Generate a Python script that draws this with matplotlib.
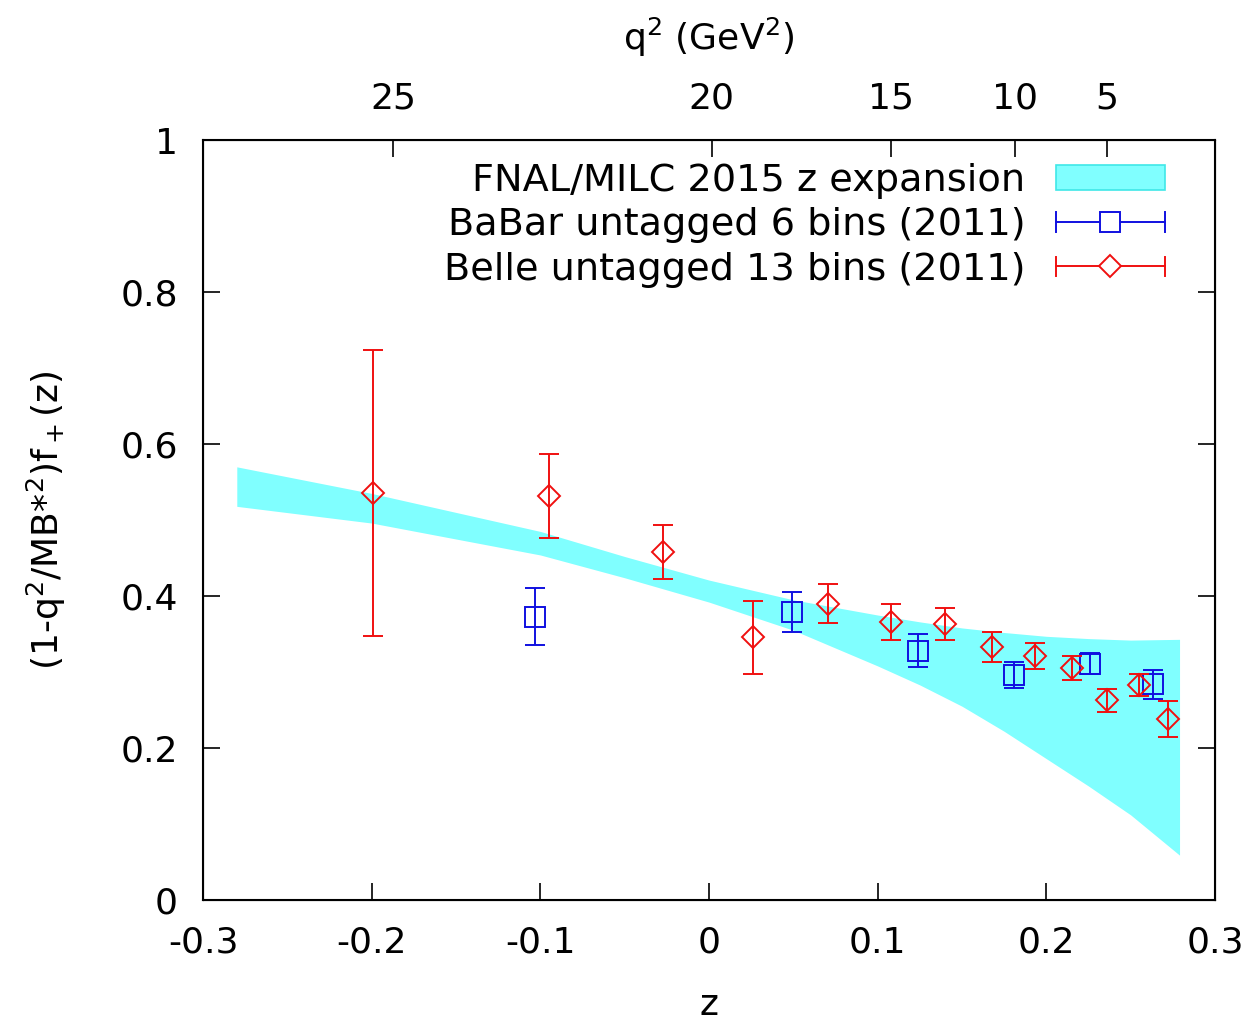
import matplotlib
matplotlib.use("Agg")
import matplotlib.pyplot as plt
import numpy as np
from matplotlib.legend_handler import HandlerBase
from matplotlib.lines import Line2D
from matplotlib.patches import Patch

# FNAL/MILC z-expansion band
band_z = [-0.280, -0.20, -0.15, -0.10, -0.05, 0.00, 0.05, 0.10, 0.125, 0.15,
          0.175, 0.20, 0.225, 0.25, 0.279]
band_hi = [0.570, 0.535, 0.510, 0.485, 0.452, 0.421, 0.395, 0.375, 0.366, 0.358,
           0.352, 0.347, 0.344, 0.342, 0.343]
band_lo = [0.518, 0.496, 0.475, 0.454, 0.424, 0.392, 0.355, 0.308, 0.283, 0.255,
           0.222, 0.186, 0.150, 0.112, 0.059]

# BaBar untagged 6 bins (2011)
babar_z = [-0.103, 0.049, 0.124, 0.181, 0.226, 0.263]
babar_y = [0.373, 0.379, 0.328, 0.296, 0.311, 0.284]
babar_err = [0.037, 0.026, 0.022, 0.017, 0.014, 0.019]

# Belle untagged 13 bins (2011)
belle_z = [-0.199, -0.095, -0.027, 0.026, 0.0705, 0.108, 0.140, 0.168, 0.193, 0.215, 0.236, 0.255, 0.272]
belle_y = [0.536, 0.532, 0.458, 0.346, 0.390, 0.366, 0.363, 0.333, 0.321, 0.305, 0.263, 0.283, 0.238]
belle_err = [0.188, 0.055, 0.036, 0.048, 0.026, 0.024, 0.021, 0.020, 0.017, 0.016, 0.015, 0.014, 0.024]

# top axis: q^2 ticks (GeV^2)
q2_ticks = [25, 20, 15, 10, 5]

CYAN = "#80ffff"
BLUE = "#1010e0"
RED = "#f01010"
FS = 26


def q2_to_z(q2, mB=5.279, mpi=0.1396):
    tp = (mB + mpi) ** 2
    tm = (mB - mpi) ** 2
    t0 = tp * (1 - np.sqrt(1 - tm / tp))
    a = np.sqrt(tp - np.asarray(q2, float))
    b = np.sqrt(tp - t0)
    return (a - b) / (a + b)


class GnuplotKey(HandlerBase):
    """gnuplot-style key sample: horizontal bar with end caps and a marker."""

    def __init__(self, color, marker, ms):
        super().__init__()
        self.color, self.marker, self.ms = color, marker, ms

    def create_artists(self, legend, orig_handle, xdescent, ydescent,
                       width, height, fontsize, trans):
        x0, x1 = -xdescent, -xdescent + width
        y = height / 2 - ydescent
        c = 7
        arts = [
            Line2D([x0, x1], [y, y], color=self.color, lw=1.4),
            Line2D([x0, x0], [y - c, y + c], color=self.color, lw=1.4),
            Line2D([x1, x1], [y - c, y + c], color=self.color, lw=1.4),
            Line2D([(x0 + x1) / 2], [y], marker=self.marker, ms=self.ms,
                   mfc="white", mec=self.color, mew=1.4, ls="none"),
        ]
        for a in arts:
            a.set_transform(trans)
        return arts


fig = plt.figure(figsize=(12.55, 10.26), dpi=100)
ax = fig.add_axes([0.1618, 0.1228, 0.8063, 0.7407])

ax.fill_between(band_z, band_lo, band_hi, color=CYAN, lw=0, zorder=1)
ax.errorbar(babar_z, babar_y, yerr=babar_err, fmt="s", ms=15, mfc="none",
            mec=BLUE, mew=1.4, ecolor=BLUE, elinewidth=1.4, capsize=7,
            capthick=1.4, zorder=3)
ax.errorbar(belle_z, belle_y, yerr=belle_err, fmt="D", ms=11, mfc="none",
            mec=RED, mew=1.4, ecolor=RED, elinewidth=1.4, capsize=7,
            capthick=1.4, zorder=4)

ax.set_xlim(-0.3, 0.3)
ax.set_ylim(0, 1)
ax.set_xticks(np.round(np.arange(-0.3, 0.31, 0.1), 1))
ax.set_xticklabels(["-0.3", "-0.2", "-0.1", "0", "0.1", "0.2", "0.3"])
ax.set_yticks([0, 0.2, 0.4, 0.6, 0.8, 1])
ax.set_yticklabels(["0", "0.2", "0.4", "0.6", "0.8", "1"])
ax.tick_params(direction="in", length=12, width=1.2, labelsize=FS, pad=18,
               top=False, right=True)
for s in ax.spines.values():
    s.set_linewidth(1.5)
ax.set_xlabel("z", fontsize=FS, labelpad=21)
ax.set_ylabel(r"(1-q$^2$/MB*$^2$)f$_+$(z)", fontsize=FS, labelpad=38)

ax2 = ax.twiny()
ax2.set_xlim(ax.get_xlim())
ax2.set_xticks(q2_to_z(q2_ticks))
ax2.set_xticklabels([str(q) for q in q2_ticks])
ax2.tick_params(direction="in", length=12, width=1.2, labelsize=FS, pad=18)
ax2.set_xlabel(r"q$^2$ (GeV$^2$)", fontsize=FS, labelpad=22)

h_band = Patch(facecolor=CYAN, edgecolor="#40e8e8", lw=1.2)
h_babar = object()
h_belle = object()
ax.legend([h_band, h_babar, h_belle],
          ["FNAL/MILC 2015 z expansion", "BaBar untagged 6 bins (2011)",
           "Belle untagged 13 bins (2011)"],
          handler_map={h_babar: GnuplotKey(BLUE, "s", 15),
                       h_belle: GnuplotKey(RED, "D", 11)},
          loc="upper right", bbox_to_anchor=(0.9655, 0.99), frameon=False,
          markerfirst=False, fontsize=FS + 1.5, handlelength=2.85,
          handleheight=0.65, handletextpad=0.8, labelspacing=0.22,
          borderaxespad=0)

fig.savefig("out.png", dpi=100)
